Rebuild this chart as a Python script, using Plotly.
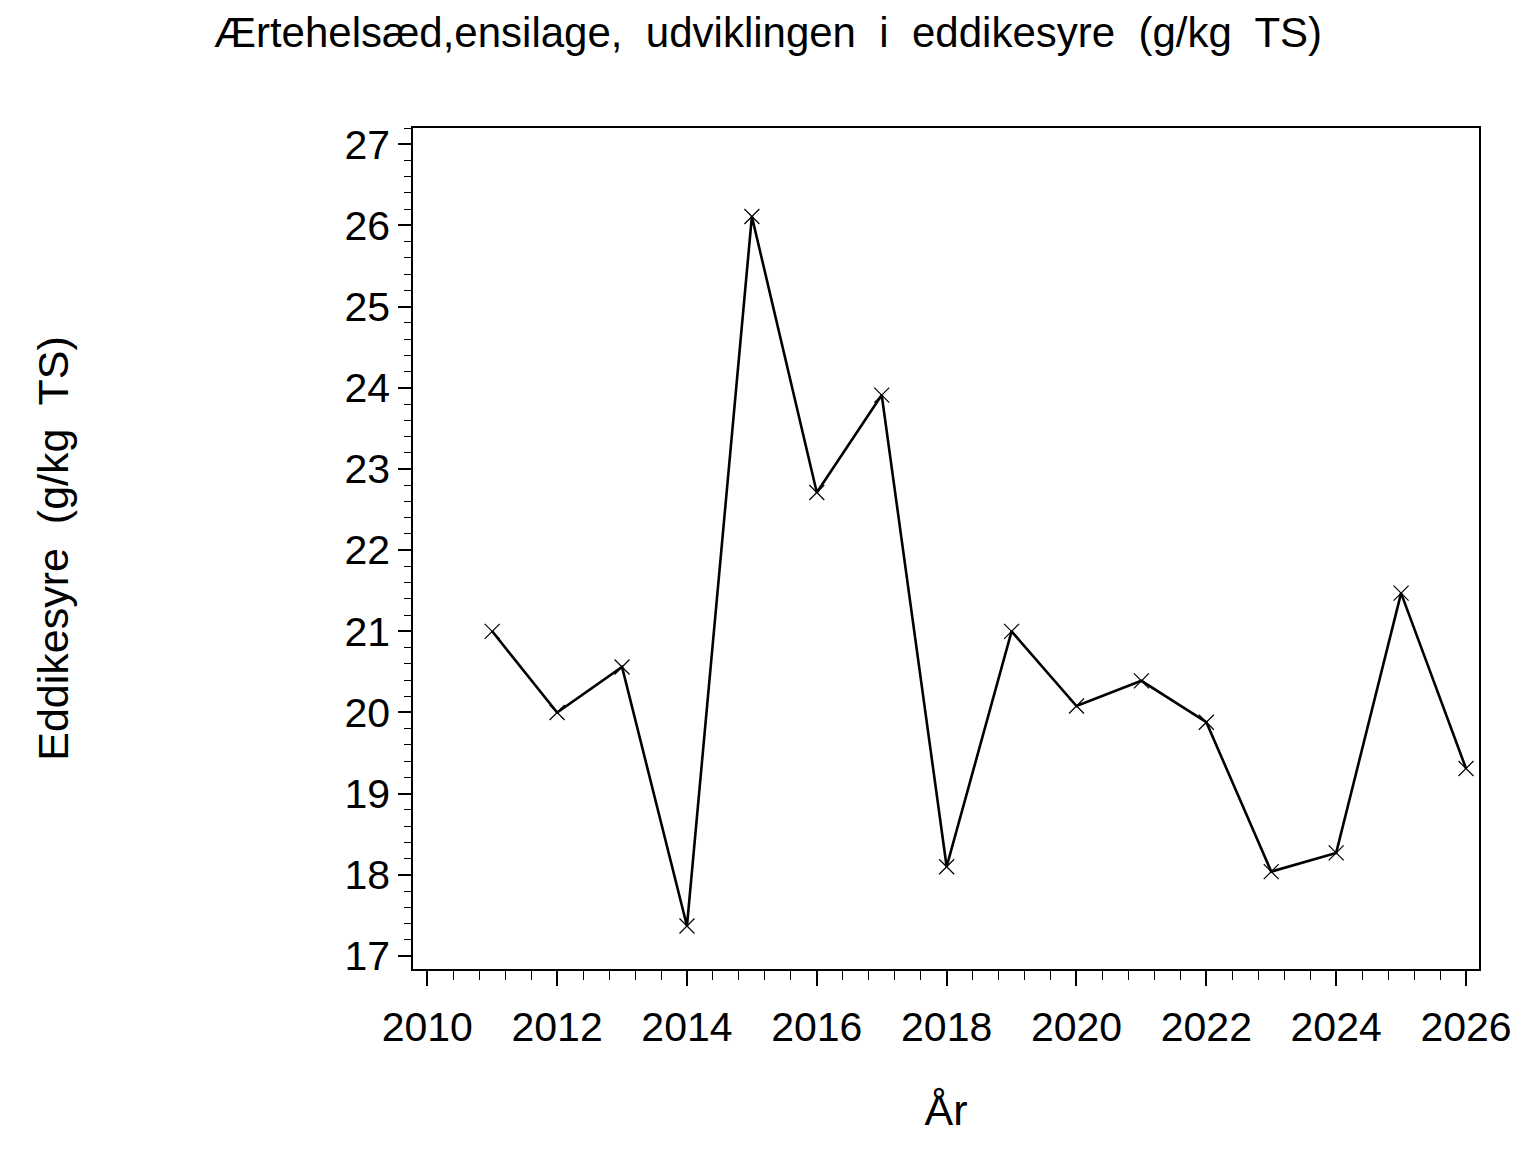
import plotly.graph_objects as go

# Data
years = [2011, 2012, 2013, 2014, 2015, 2016, 2017, 2018,
         2019, 2020, 2021, 2022, 2023, 2024, 2025, 2026]
eddikesyre = [21.0, 20.0, 20.56, 17.37, 26.11, 22.71, 23.91, 18.1,
              21.0, 20.08, 20.39, 19.88, 18.04, 18.27, 21.47, 19.31]

title_text = "Ærtehelsæd,ensilage,  udviklingen  i  eddikesyre  (g/kg  TS)"
x_title = "År"
y_title = "Eddikesyre  (g/kg  TS)"

font_family = "Liberation Sans, Arial, sans-serif"

fig = go.Figure()

fig.add_trace(
    go.Scatter(
        x=years,
        y=eddikesyre,
        mode="lines+markers",
        line=dict(color="black", width=2.6),
        marker=dict(symbol="x-thin", size=15, line=dict(color="black", width=1.2)),
        showlegend=False,
    )
)

# page body has an 8px margin, so the figure is a bit smaller than the window
fig.update_layout(
    width=1520,
    height=1136,
    paper_bgcolor="white",
    plot_bgcolor="white",
    margin=dict(l=405, r=49, t=120, b=175),
    font=dict(family=font_family, color="black"),
    title=dict(
        text=title_text,
        x=0.5,
        xref="container",
        xanchor="center",
        y=0.979,
        yref="container",
        yanchor="middle",
        font=dict(size=42, family=font_family, color="black"),
    ),
)

fig.update_xaxes(
    range=[2009.78, 2026.2],
    tickmode="linear",
    tick0=2010,
    dtick=2,
    ticks="outside",
    ticklen=15,
    tickwidth=1.5,
    tickcolor="black",
    minor=dict(ticks="outside", dtick=0.4, tick0=2010, ticklen=9, tickwidth=1.2, tickcolor="black"),
    showline=True,
    linecolor="black",
    linewidth=1.5,
    mirror=True,
    showgrid=False,
    zeroline=False,
    ticklabelstandoff=6,
    tickfont=dict(size=41, family=font_family),
    title=dict(text=x_title, font=dict(size=43, family=font_family), standoff=46),
)

fig.update_yaxes(
    range=[16.84, 27.2],
    tickmode="linear",
    tick0=17,
    dtick=1,
    ticks="outside",
    ticklen=13,
    tickwidth=1.5,
    tickcolor="black",
    minor=dict(ticks="outside", dtick=0.2, ticklen=7, tickwidth=1.2, tickcolor="black"),
    showline=True,
    linecolor="black",
    linewidth=1.5,
    mirror=True,
    showgrid=False,
    zeroline=False,
    tickfont=dict(size=41, family=font_family),
    title=dict(text=y_title, font=dict(size=43, family=font_family), standoff=262),
)

fig.write_html("out.html")
